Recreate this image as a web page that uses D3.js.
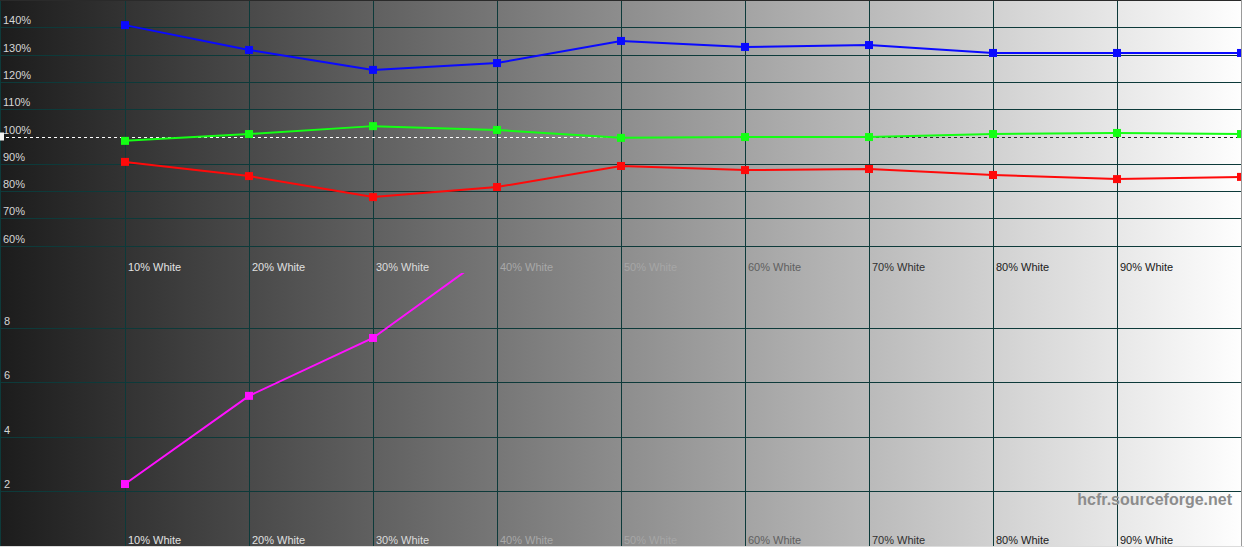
<!DOCTYPE html>
<html><head><meta charset="utf-8">
<script src="https://cdn.jsdelivr.net/npm/d3@7"></script>
<style>html,body{margin:0;padding:0;background:#fff;overflow:hidden}svg{display:block}</style>
</head><body><svg id="c" width="1244" height="549"></svg>
<script>
const categories = ["10% White","20% White","30% White","40% White","50% White","60% White","70% White","80% White","90% White"];
const levels = [10,20,30,40,50,60,70,80,90,100];
const blue  = [140.8,131.7,124.4,126.9,135.0,132.8,133.5,130.6,130.6,130.6];
const green = [98.4,100.9,103.8,102.4,99.5,99.8,99.8,100.9,101.3,100.9];
const red   = [90.7,85.5,77.8,81.5,89.2,87.7,88.1,85.9,84.4,85.2];
const deltaLevels = [10,20,30,40];
const deltaE = [2.27,5.5,7.62,10.9];
const topTicks = [60,70,80,90,100,110,120,130,140];
const bottomTicks = [2,4,6,8];

const labelColors = ["#e2e2e2","#e0e0e0","#dcdcdc","#a8a8a8","#a6a6a6","#606060","#303030","#202020","#181818"];
const gridColor = "#0d3a3a";

const svg = d3.select("#c");
const W = 1244, H = 549;
const x = d3.scaleLinear().domain([0,100]).range([1,1241]);
const yTop = d3.scaleLinear().domain([50,150]).range([273,0]);
const yBot = d3.scaleLinear().domain([0,10]).range([546,273]);

const defs = svg.append("defs");
const bg = defs.append("linearGradient").attr("id","bg").attr("x1","0").attr("x2","1").attr("y1","0").attr("y2","0");
bg.append("stop").attr("offset","0").attr("stop-color","#1c1c1c");
bg.append("stop").attr("offset","1").attr("stop-color","#fefefe");
const dg = defs.append("linearGradient").attr("id","dash").attr("gradientUnits","userSpaceOnUse")
  .attr("x1",0).attr("x2",1241).attr("y1",0).attr("y2",0);
dg.append("stop").attr("offset","0").attr("stop-color","#ffffff");
dg.append("stop").attr("offset","0.45").attr("stop-color","#ffffff");
dg.append("stop").attr("offset","0.6").attr("stop-color","#303030");
dg.append("stop").attr("offset","1").attr("stop-color","#202020");
defs.append("clipPath").attr("id","clipBot").append("rect")
  .attr("x",0).attr("y",yBot(10)).attr("width",W).attr("height",yBot(0)-yBot(10));
defs.append("clipPath").attr("id","clipTop").append("rect")
  .attr("x",0).attr("y",0).attr("width",1241).attr("height",yTop(50));

svg.append("rect").attr("width",W).attr("height",H).attr("fill","#ffffff");
svg.append("rect").attr("x",0).attr("y",0).attr("width",1241).attr("height",546).attr("fill","url(#bg)");

// horizontal grid
svg.append("g").selectAll("line").data(topTicks.filter(d=>d!==100)).join("line")
  .attr("x1",0).attr("x2",1241).attr("y1",d=>Math.round(yTop(d))+0.5).attr("y2",d=>Math.round(yTop(d))+0.5)
  .attr("stroke",gridColor).attr("stroke-width",1);
svg.append("g").selectAll("line").data(bottomTicks).join("line")
  .attr("x1",0).attr("x2",1241).attr("y1",d=>Math.round(yBot(d))+0.5).attr("y2",d=>Math.round(yBot(d))+0.5)
  .attr("stroke",gridColor).attr("stroke-width",1);
// vertical grid
svg.append("g").selectAll("line").data(levels.slice(0,9)).join("line")
  .attr("x1",d=>Math.round(x(d))+0.5).attr("x2",d=>Math.round(x(d))+0.5).attr("y1",0).attr("y2",546)
  .attr("stroke",gridColor).attr("stroke-width",1);
// borders
svg.append("line").attr("x1",0.5).attr("x2",0.5).attr("y1",0).attr("y2",546).attr("stroke",gridColor);
svg.append("line").attr("x1",0).attr("x2",1241).attr("y1",0.5).attr("y2",0.5).attr("stroke","#2a2a2a");
svg.append("line").attr("x1",1241.5).attr("x2",1241.5).attr("y1",0).attr("y2",546).attr("stroke","#9a9a9a");
svg.append("line").attr("x1",0).attr("x2",1244).attr("y1",546.5).attr("y2",546.5).attr("stroke","#dcdcdc");

// y labels
const font = "'Liberation Sans', Arial, sans-serif";
svg.append("g").selectAll("text").data(topTicks).join("text")
  .attr("x",3).attr("y",d=>yTop(d)-3).text(d=>d+"%")
  .attr("font-family",font).attr("font-size",11).attr("fill","#d6d6d6");
svg.append("g").selectAll("text").data(bottomTicks).join("text")
  .attr("x",4).attr("y",d=>yBot(d)-3).text(d=>d)
  .attr("font-family",font).attr("font-size",11).attr("fill","#d6d6d6");

// x labels (both panels)
[yTop(50)-2, yBot(0)-2].forEach(yy=>{
  svg.append("g").selectAll("text").data(categories).join("text")
    .attr("x",(d,i)=>x(levels[i])+3).attr("y",yy).text(d=>d)
    .attr("font-family",font).attr("font-size",11).attr("fill",(d,i)=>labelColors[i]);
});

// 100% reference dashed
svg.append("line").attr("x1",0).attr("x2",1241).attr("y1",Math.round(yTop(100))+0.5).attr("y2",Math.round(yTop(100))+0.5)
  .attr("stroke","url(#dash)").attr("stroke-width",1).attr("stroke-dasharray","3,3");
svg.append("rect").attr("x",0).attr("y",yTop(100)-4).attr("width",4).attr("height",8).attr("fill","#f4f4f4");

// series
function series(vals, lv, y, color, clip){
  const g = svg.append("g").attr("clip-path",`url(#${clip})`);
  const pts = vals.map((v,i)=>[x(lv[i]), y(v)]);
  g.append("path").attr("d",d3.line()(pts)).attr("fill","none").attr("stroke",color).attr("stroke-width",2);
  g.selectAll("rect").data(pts).join("rect")
    .attr("x",d=>d[0]-4).attr("y",d=>d[1]-4).attr("width",8).attr("height",8).attr("fill",color);
}
series(blue, levels, yTop, "#0a0aff", "clipTop");
series(green, levels, yTop, "#14ff14", "clipTop");
series(red, levels, yTop, "#ff0a0a", "clipTop");
series(deltaE, deltaLevels, yBot, "#ff10ff", "clipBot");

// watermark
svg.append("text").attr("x",1232).attr("y",505).attr("text-anchor","end")
  .attr("font-family",font).attr("font-weight","bold").attr("font-size",16).attr("fill","#8c8c8c")
  .text("hcfr.sourceforge.net");
</script></body></html>
